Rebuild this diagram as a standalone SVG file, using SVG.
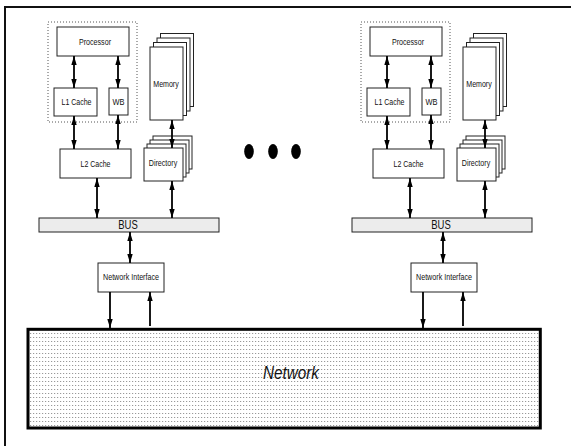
<svg xmlns="http://www.w3.org/2000/svg" width="571" height="446" viewBox="0 0 571 446">
<style>
.box{fill:#fff;stroke:#222;stroke-width:1}
.dot{fill:none;stroke:#555;stroke-width:1;stroke-dasharray:1 2}
.bus{fill:#ececec;stroke:#222;stroke-width:1}
.lbl{font-family:"Liberation Sans",Arial,sans-serif;font-size:9px;fill:#111;text-anchor:middle}
.big{font-size:12px}
.net{font-size:18px;font-style:italic}
.ar{stroke:#000;stroke-width:1.8;fill:none}
.ar2{marker-start:url(#ah);marker-end:url(#ah)}
.ar1{marker-end:url(#ah)}
</style>
<defs>
<marker id="ah" viewBox="0 0 10 6" refX="10" refY="3" markerWidth="9" markerHeight="6" markerUnits="userSpaceOnUse" orient="auto-start-reverse">
<path d="M0,0 L10,3 L0,6 z" fill="#000"/>
</marker>
<pattern id="dots" width="3" height="4" patternUnits="userSpaceOnUse">
<rect width="3" height="4" fill="#fff"/>
<rect x="0" y="1" width="1.2" height="1" fill="#999"/>
</pattern>
</defs>
<rect width="571" height="446" fill="#fff"/>
<path d="M5,446 V7 H571" fill="none" stroke="#111" stroke-width="2"/>

<!-- left node -->
<g id="cpu1-group"><rect class="dot" x="48" y="22" width="89" height="100"/></g>
<g id="processor1"><rect class="box" x="57" y="27" width="72" height="29"/><text class="lbl" x="95" y="44.5" textLength="32" lengthAdjust="spacingAndGlyphs">Processor</text></g>
<g id="l1cache1"><rect class="box" x="54" y="88" width="43" height="28"/><text class="lbl" x="76.5" y="104.5" textLength="30" lengthAdjust="spacingAndGlyphs">L1 Cache</text></g>
<g id="wb1"><rect class="box" x="109" y="88" width="19" height="27"/><text class="lbl" x="118.5" y="104.5" textLength="12" lengthAdjust="spacingAndGlyphs">WB</text></g>
<g id="memory1">
<rect class="box" x="160.5" y="33.5" width="33" height="73"/>
<rect class="box" x="157" y="38" width="33" height="73"/>
<rect class="box" x="153.5" y="42.5" width="33" height="73"/>
<rect class="box" x="150" y="47" width="33" height="73"/>
<text class="lbl" x="166" y="87" textLength="25.5" lengthAdjust="spacingAndGlyphs">Memory</text></g>
<g id="l2cache1"><rect class="box" x="60" y="149" width="71" height="29"/><text class="lbl" x="95.5" y="166.5" textLength="30" lengthAdjust="spacingAndGlyphs">L2 Cache</text></g>
<g id="directory1">
<rect class="box" x="153" y="136" width="39" height="33"/>
<rect class="box" x="150" y="140" width="39" height="33"/>
<rect class="box" x="147" y="144" width="39" height="33"/>
<rect class="box" x="144" y="148" width="39" height="33"/>
<text class="lbl" x="163" y="166" textLength="28.5" lengthAdjust="spacingAndGlyphs">Directory</text></g>
<g id="bus1"><rect class="bus" x="39" y="218" width="180" height="14"/><text class="lbl big" x="128" y="229" textLength="19.5" lengthAdjust="spacingAndGlyphs">BUS</text></g>
<g id="ni1"><rect class="box" x="98" y="263" width="66" height="29"/><text class="lbl" x="131" y="280" textLength="56" lengthAdjust="spacingAndGlyphs">Network Interface</text></g>

<!-- right node -->
<g id="cpu2-group"><rect class="dot" x="361" y="22" width="89" height="100"/></g>
<g id="processor2"><rect class="box" x="370" y="27" width="72" height="29"/><text class="lbl" x="408" y="44.5" textLength="32" lengthAdjust="spacingAndGlyphs">Processor</text></g>
<g id="l1cache2"><rect class="box" x="367" y="88" width="43" height="28"/><text class="lbl" x="389.5" y="104.5" textLength="30" lengthAdjust="spacingAndGlyphs">L1 Cache</text></g>
<g id="wb2"><rect class="box" x="422" y="88" width="19" height="27"/><text class="lbl" x="431.5" y="104.5" textLength="12" lengthAdjust="spacingAndGlyphs">WB</text></g>
<g id="memory2">
<rect class="box" x="473.5" y="33.5" width="33" height="73"/>
<rect class="box" x="470" y="38" width="33" height="73"/>
<rect class="box" x="466.5" y="42.5" width="33" height="73"/>
<rect class="box" x="463" y="47" width="33" height="73"/>
<text class="lbl" x="479" y="87" textLength="25.5" lengthAdjust="spacingAndGlyphs">Memory</text></g>
<g id="l2cache2"><rect class="box" x="373" y="149" width="71" height="29"/><text class="lbl" x="408.5" y="166.5" textLength="30" lengthAdjust="spacingAndGlyphs">L2 Cache</text></g>
<g id="directory2">
<rect class="box" x="466" y="136" width="39" height="33"/>
<rect class="box" x="463" y="140" width="39" height="33"/>
<rect class="box" x="460" y="144" width="39" height="33"/>
<rect class="box" x="457" y="148" width="39" height="33"/>
<text class="lbl" x="476" y="166" textLength="28.5" lengthAdjust="spacingAndGlyphs">Directory</text></g>
<g id="bus2"><rect class="bus" x="352" y="218" width="180" height="14"/><text class="lbl big" x="441" y="229" textLength="19.5" lengthAdjust="spacingAndGlyphs">BUS</text></g>
<g id="ni2"><rect class="box" x="411" y="263" width="66" height="29"/><text class="lbl" x="444" y="280" textLength="56" lengthAdjust="spacingAndGlyphs">Network Interface</text></g>

<g id="ellipsis">
<ellipse cx="249" cy="151.5" rx="4.8" ry="7.5" fill="#000"/>
<ellipse cx="273" cy="151.5" rx="4.8" ry="7.5" fill="#000"/>
<ellipse cx="296" cy="151.5" rx="4.8" ry="7.5" fill="#000"/>
</g>

<g id="network">
<rect x="28" y="329.3" width="512.3" height="98.7" fill="url(#dots)" stroke="#000" stroke-width="3"/>
<text class="lbl net" x="291" y="379" textLength="56" lengthAdjust="spacingAndGlyphs">Network</text>
</g>

<g id="connectors">
<line class="ar ar2" x1="74" y1="56" x2="74" y2="88"/>
<line class="ar ar2" x1="118" y1="56" x2="118" y2="88"/>
<line class="ar ar2" x1="74" y1="116" x2="74" y2="149"/>
<line class="ar ar2" x1="118" y1="115" x2="118" y2="149"/>
<line class="ar ar2" x1="172" y1="120" x2="172" y2="148"/>
<line class="ar ar2" x1="97" y1="178" x2="97" y2="218"/>
<line class="ar ar2" x1="172" y1="181" x2="172" y2="218"/>
<line class="ar ar2" x1="130" y1="232" x2="130" y2="263"/>
<line class="ar ar1" x1="110" y1="292" x2="110" y2="328"/>
<line class="ar ar1" x1="150" y1="326" x2="150" y2="292"/>

<line class="ar ar2" x1="387" y1="56" x2="387" y2="88"/>
<line class="ar ar2" x1="431" y1="56" x2="431" y2="88"/>
<line class="ar ar2" x1="387" y1="116" x2="387" y2="149"/>
<line class="ar ar2" x1="431" y1="115" x2="431" y2="149"/>
<line class="ar ar2" x1="485" y1="120" x2="485" y2="148"/>
<line class="ar ar2" x1="410" y1="178" x2="410" y2="218"/>
<line class="ar ar2" x1="485" y1="181" x2="485" y2="218"/>
<line class="ar ar2" x1="443" y1="232" x2="443" y2="263"/>
<line class="ar ar1" x1="423" y1="292" x2="423" y2="328"/>
<line class="ar ar1" x1="463" y1="326" x2="463" y2="292"/>
</g>
</svg>
